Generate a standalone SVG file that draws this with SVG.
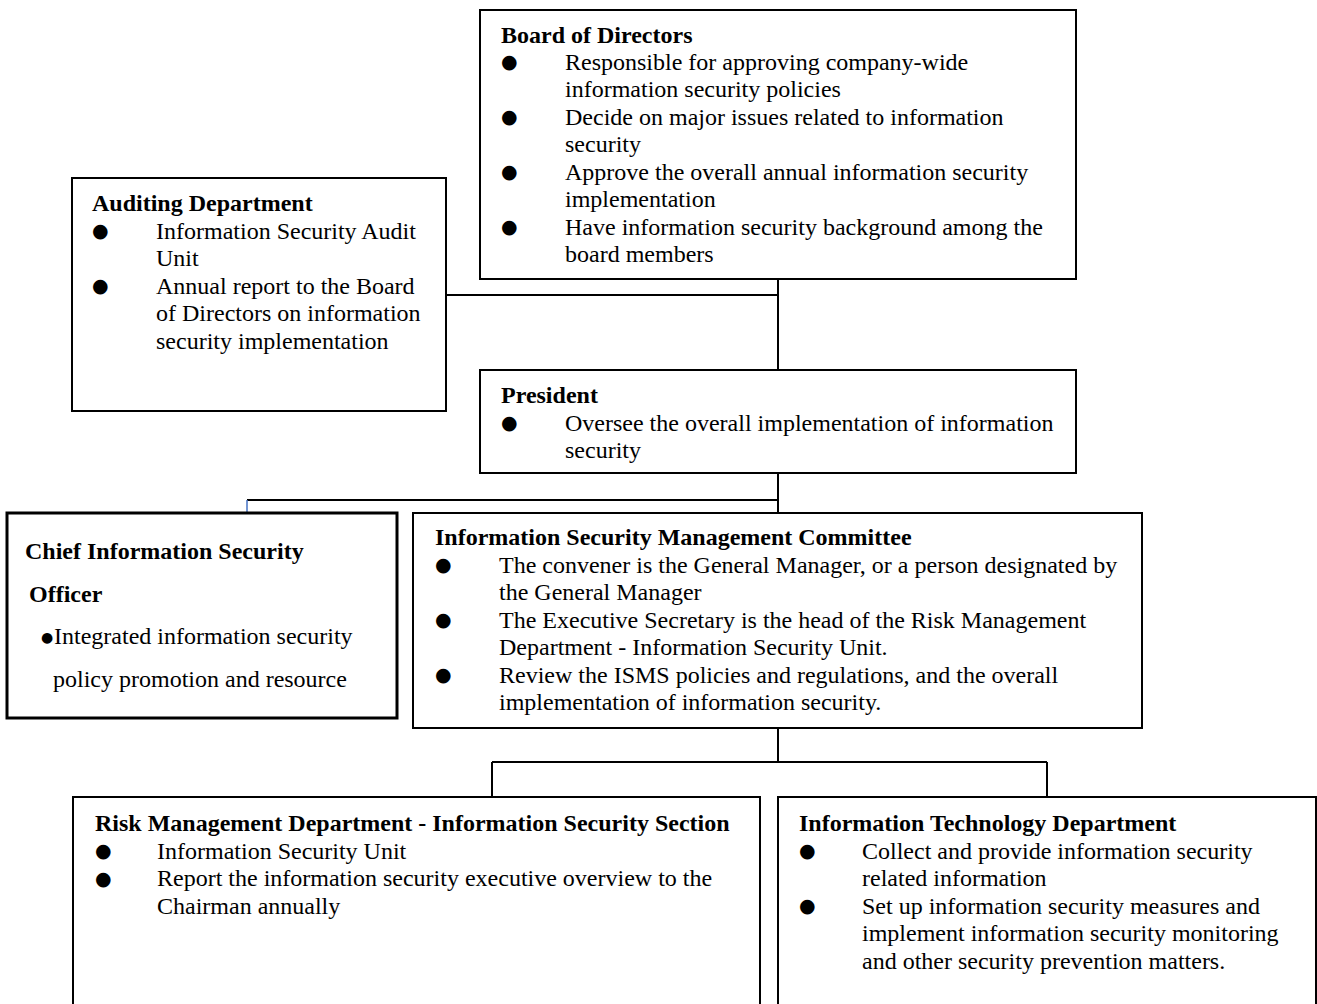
<svg xmlns="http://www.w3.org/2000/svg" width="1317" height="1004" viewBox="0 0 1317 1004">
<style>
.box{fill:#fff;stroke:#000;stroke-width:2}
.thick{stroke-width:3}
.t{font-family:"Liberation Serif","Times New Roman",serif;font-size:24px;fill:#000}
.h{font-weight:bold}
.b{font-family:"DejaVu Sans",sans-serif;font-size:19px;fill:#000}
.bs{font-family:"DejaVu Sans",sans-serif;font-size:14px;fill:#000}
.c{fill:none;stroke:#000;stroke-width:2}
.cb{fill:none;stroke:#4472c4;stroke-width:1.5}
</style>
<rect width="1317" height="1004" fill="#fff"/>
<g id="connectors">
<path class="c" d="M778 279V370"/>
<path class="c" d="M446 295H778"/>
<path class="c" d="M778 473V513"/>
<path class="c" d="M247 500H778"/>
<path class="cb" d="M247 500V513"/>
<path class="c" d="M778 728V762"/>
<path class="c" d="M492 762H1047"/>
<path class="c" d="M492 762V797"/>
<path class="c" d="M1047 762V797"/>
</g>
<g id="board">
<rect class="box" x="480" y="10" width="596" height="269"/>
<text class="t h" x="501" y="42.5">Board of Directors</text>
<text class="b" x="501" y="68">●</text>
<text class="t" x="565" y="69.5">Responsible for approving company-wide</text>
<text class="t" x="565" y="97">information security policies</text>
<text class="b" x="501" y="123">●</text>
<text class="t" x="565" y="124.5">Decide on major issues related to information</text>
<text class="t" x="565" y="152">security</text>
<text class="b" x="501" y="178">●</text>
<text class="t" x="565" y="179.5">Approve the overall annual information security</text>
<text class="t" x="565" y="207">implementation</text>
<text class="b" x="501" y="233">●</text>
<text class="t" x="565" y="234.5">Have information security background among the</text>
<text class="t" x="565" y="262">board members</text>
</g>
<g id="auditing">
<rect class="box" x="72" y="178" width="374" height="233"/>
<text class="t h" x="92" y="211">Auditing Department</text>
<text class="b" x="92" y="237">●</text>
<text class="t" x="156" y="238.5">Information Security Audit</text>
<text class="t" x="156" y="266">Unit</text>
<text class="b" x="92" y="292">●</text>
<text class="t" x="156" y="293.5">Annual report to the Board</text>
<text class="t" x="156" y="321">of Directors on information</text>
<text class="t" x="156" y="348.5">security implementation</text>
</g>
<g id="president">
<rect class="box" x="480" y="370" width="596" height="103"/>
<text class="t h" x="501" y="403">President</text>
<text class="b" x="501" y="429">●</text>
<text class="t" x="565" y="430.5">Oversee the overall implementation of information</text>
<text class="t" x="565" y="458">security</text>
</g>
<g id="ciso">
<rect class="box thick" x="7" y="513" width="390" height="205"/>
<text class="t h" x="25" y="559">Chief Information Security</text>
<text class="t h" x="29" y="602">Officer</text>
<text class="bs" x="41" y="642">●</text>
<text class="t" x="54" y="644">Integrated information security</text>
<text class="t" x="53" y="687">policy promotion and resource</text>
</g>
<g id="ismc">
<rect class="box" x="413" y="513" width="729" height="215"/>
<text class="t h" x="435" y="545">Information Security Management Committee</text>
<text class="b" x="435" y="571">●</text>
<text class="t" x="499" y="572.5">The convener is the General Manager, or a person designated by</text>
<text class="t" x="499" y="600">the General Manager</text>
<text class="b" x="435" y="626">●</text>
<text class="t" x="499" y="627.5">The Executive Secretary is the head of the Risk Management</text>
<text class="t" x="499" y="655">Department - Information Security Unit.</text>
<text class="b" x="435" y="681">●</text>
<text class="t" x="499" y="682.5">Review the ISMS policies and regulations, and the overall</text>
<text class="t" x="499" y="710">implementation of information security.</text>
</g>
<g id="risk">
<rect class="box" x="73" y="797" width="687" height="220"/>
<text class="t h" x="95" y="831">Risk Management Department - Information Security Section</text>
<text class="b" x="95" y="857">●</text>
<text class="t" x="157" y="858.5">Information Security Unit</text>
<text class="b" x="95" y="884.5">●</text>
<text class="t" x="157" y="886">Report the information security executive overview to the</text>
<text class="t" x="157" y="913.5">Chairman annually</text>
</g>
<g id="it">
<rect class="box" x="778" y="797" width="538" height="220"/>
<text class="t h" x="799" y="831">Information Technology Department</text>
<text class="b" x="799" y="857">●</text>
<text class="t" x="862" y="858.5">Collect and provide information security</text>
<text class="t" x="862" y="886">related information</text>
<text class="b" x="799" y="912">●</text>
<text class="t" x="862" y="913.5">Set up information security measures and</text>
<text class="t" x="862" y="941">implement information security monitoring</text>
<text class="t" x="862" y="968.5">and other security prevention matters.</text>
</g>
</svg>
